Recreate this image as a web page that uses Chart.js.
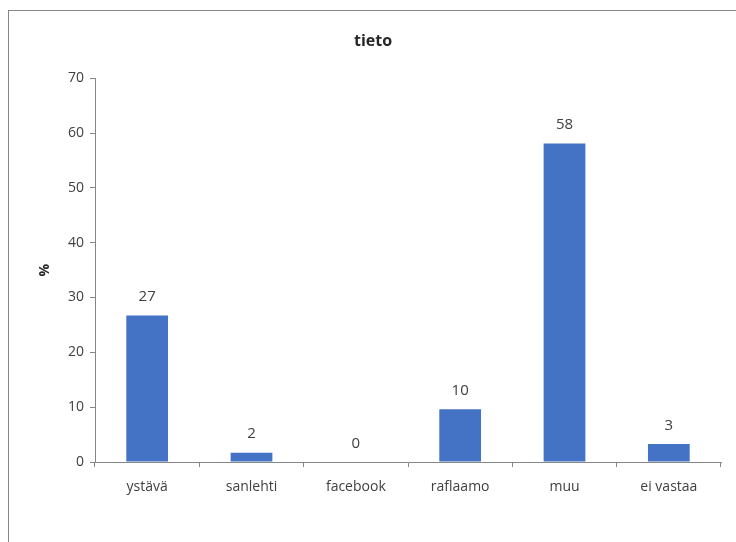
<!DOCTYPE html>
<html>
<head>
<meta charset="utf-8">
<script src="https://cdn.jsdelivr.net/npm/chart.js@4.4.1/dist/chart.umd.min.js"></script>
<style>
  html, body { margin: 0; padding: 0; background: #fff; }
  #wrap { position: relative; width: 736px; height: 542px; }
</style>
</head>
<body>
<div id="wrap"><canvas id="barTieto" width="736" height="542"></canvas></div>
<script>
// data
const kategoriat = ['ystävä', 'sanlehti', 'facebook', 'raflaamo', 'muu', 'ei vastaa'];
const prosentit = [26.7, 1.7, 0, 9.6, 58.1, 3.3];
const yTicks = [0, 10, 20, 30, 40, 50, 60, 70];

const fontti = "'Open Sans', 'Liberation Sans', sans-serif";

// ulkoreunus
const kehys = {
    id: 'kehys',
    beforeDraw(chart) {
        const c = chart.ctx;
        c.save();
        c.fillStyle = '#fff';
        c.fillRect(0, 0, chart.width, chart.height);
        c.strokeStyle = '#868686';
        c.lineWidth = 1;
        c.strokeRect(8.5, 10.5, 900, 700);
        c.restore();
    }
};

// arvot pylväiden päälle
const arvot = {
    id: 'arvot',
    afterDatasetsDraw(chart) {
        const c = chart.ctx;
        const meta = chart.getDatasetMeta(0);
        c.save();
        c.font = '15px ' + fontti;
        c.fillStyle = '#404040';
        c.textAlign = 'center';
        c.textBaseline = 'bottom';
        meta.data.forEach((bar, i) => {
            c.fillText(Math.round(prosentit[i]), bar.x, bar.y - 11);
        });
        c.restore();
    }
};

const config = {
    type: 'bar',
    data: {
        labels: kategoriat,
        datasets: [{
            label: '%',
            data: prosentit,
            backgroundColor: '#4472C4',
            borderWidth: 0,
            barPercentage: 0.4,
            categoryPercentage: 1
        }]
    },
    options: {
        responsive: false,
        animation: false,
        layout: { padding: { left: 25, right: 15, top: 0, bottom: 0 } },
        scales: {
            x: {
                grid: {
                    display: true,
                    drawOnChartArea: false,
                    drawTicks: true,
                    tickLength: 5,
                    color: '#868686',
                    offset: true
                },
                border: { display: true, color: '#868686' },
                ticks: {
                    color: '#404040',
                    padding: 12,
                    font: { size: 14, family: fontti }
                },
                afterFit(scale) { scale.height = 80; }
            },
            y: {
                min: 0,
                max: 70,
                afterBuildTicks(scale) {
                    scale.ticks = yTicks.map(v => ({ value: v }));
                },
                grid: {
                    display: true,
                    drawOnChartArea: false,
                    drawTicks: true,
                    tickLength: 5,
                    color: '#868686'
                },
                border: { display: true, color: '#868686' },
                ticks: {
                    color: '#404040',
                    padding: 6,
                    font: { size: 14, family: fontti }
                },
                title: {
                    display: true,
                    text: '%',
                    color: '#262626',
                    padding: { top: 12, bottom: 0 },
                    font: { size: 14, weight: 'bold', family: fontti }
                },
                afterFit(scale) { scale.width = 70; }
            }
        },
        plugins: {
            legend: { display: false },
            tooltip: { enabled: false },
            title: {
                display: true,
                text: 'tieto',
                color: '#262626',
                padding: { top: 32, bottom: 27 },
                font: { size: 16, weight: 'bold', family: fontti }
            }
        }
    },
    plugins: [kehys, arvot]
};

new Chart(document.getElementById('barTieto').getContext('2d'), config);
</script>
</body>
</html>
